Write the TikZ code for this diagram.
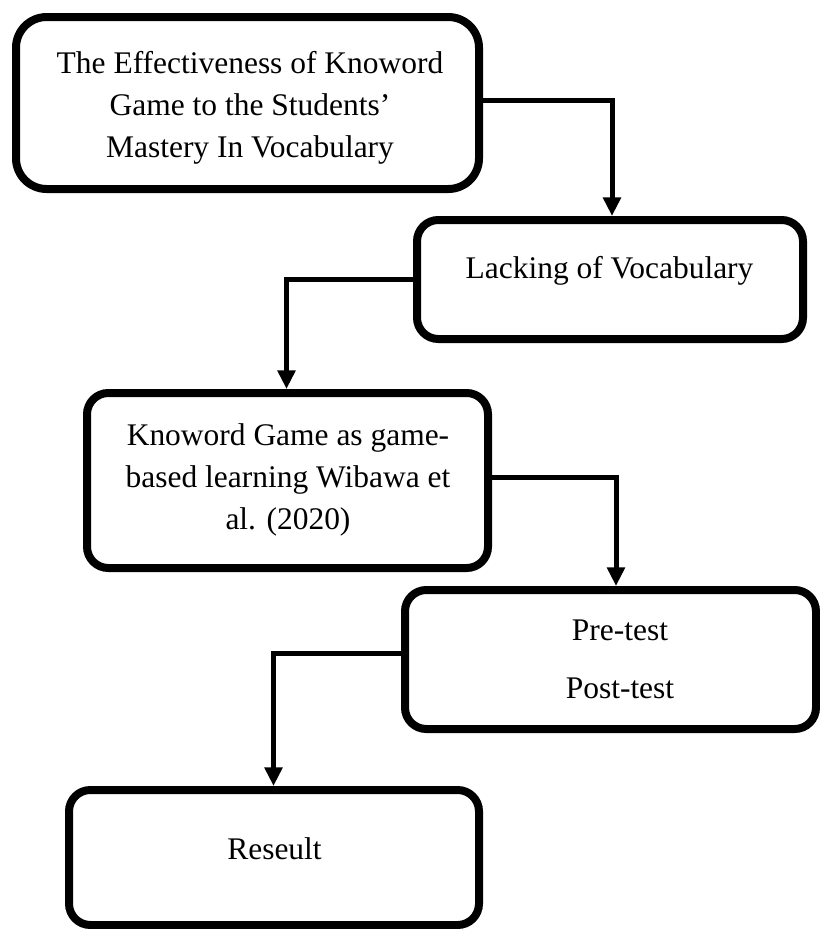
\documentclass[tikz,border=0pt]{standalone}
\usepackage{fontspec}
\setmainfont{Liberation Serif}
\usetikzlibrary{arrows.meta,calc}
\begin{document}
\begin{tikzpicture}[x=0.75pt,y=-0.75pt,
  box/.style={draw,line width=6pt,rounded corners=16pt,inner sep=0pt},
  txt/.style={anchor=base,inner sep=0pt,font=\fontsize{23.6}{28}\selectfont},
  conn/.style={line width=3.75pt,-{Triangle[length=14pt,width=13pt]}}]
\useasboundingbox (0,0) rectangle (820,929);
% boxes
\node[box,rounded corners=23pt,minimum width=0.75pt*463,minimum height=0.75pt*172] (b1) at (247.5,103) {};
\node[box,minimum width=0.75pt*386,minimum height=0.75pt*119] (b2) at (610,279.5) {};
\node[box,minimum width=0.75pt*401,minimum height=0.75pt*175] (b3) at (287.5,480.5) {};
\node[box,minimum width=0.75pt*411,minimum height=0.75pt*139] (b4) at (610.5,659.5) {};
\node[box,minimum width=0.75pt*410,minimum height=0.75pt*135] (b5) at (274,857.5) {};
% texts
\node[txt] (t1a) at (250,73) {The Effectiveness of Knoword};
\node[txt] (t1b) at (250,115) {Game to the Students’};
\node[txt] (t1c) at (250,157) {Mastery In Vocabulary};
\node[txt] (t2) at (609.5,278) {Lacking of Vocabulary};
\node[txt] (t3a) at (288,445) {Knoword Game as game-};
\node[txt] (t3b) at (288,487) {based learning Wibawa et};
\node[txt] (t3c) at (288,529) {al. (2020)};
\node[txt] (t4a) at (620,640) {Pre-test};
\node[txt] (t4b) at (620,698) {Post-test};
\node[txt] (t5) at (274.5,859) {Reseult};
% connectors
\draw[conn] ($(b1.east)+(0,-3)$) -| ($(b2.north)+(2,0)$);
\draw[conn] (b2.west) -| ($(b3.north)+(-1,0)$);
\draw[conn] ($(b3.east)+(0,-3.5)$) -| ($(b4.north)+(5.5,0)$);
\draw[conn] ($(b4.west)+(0,-6.5)$) -| ($(b5.north)+(-0.5,0)$);
\end{tikzpicture}
\end{document}
